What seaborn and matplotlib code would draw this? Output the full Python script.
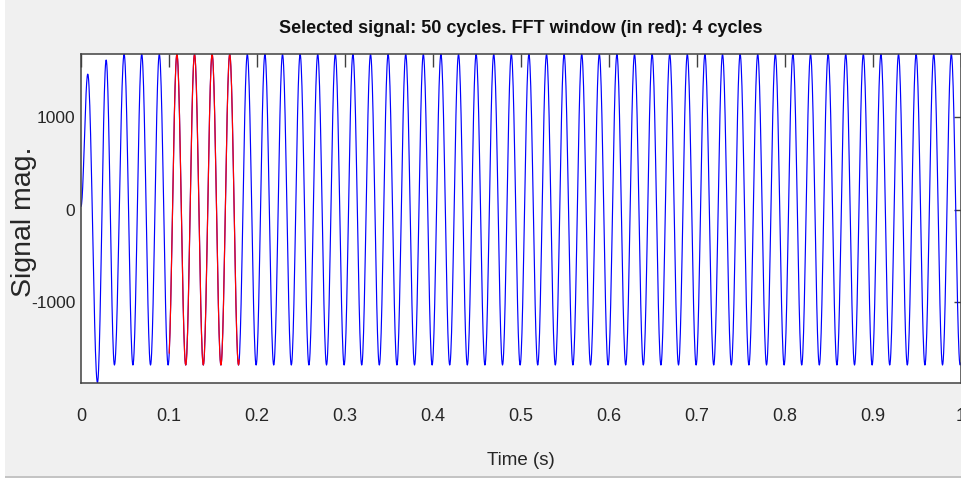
import numpy as np
import pandas as pd
import matplotlib
matplotlib.use("Agg")
import matplotlib.pyplot as plt
from matplotlib.patches import Rectangle
import seaborn as sns

# ---- data ----
frequency_hz = 50
n_cycles = 50
steady_peak = 1681
steady_trough = -1678
# start-up extrema (time in s, value)
transient_times = [0.0, 0.0077, 0.0187, 0.0286, 0.0380, 0.0490]
transient_values = [36, 1467, -1869, 1619, -1678, 1681]
fft_window = [0.10, 0.18]
x_ticks = [0, 0.1, 0.2, 0.3, 0.4, 0.5, 0.6, 0.7, 0.8, 0.9, 1]
x_tick_labels = ["0", "0.1", "0.2", "0.3", "0.4", "0.5", "0.6", "0.7", "0.8", "0.9", "1"]
y_ticks = [-1000, 0, 1000]
y_tick_labels = ["-1000", "0", "1000"]
title = "Selected signal: 50 cycles. FFT window (in red): 4 cycles"
x_label = "Time (s)"
y_label = "Signal mag."

# ---- build the sampled signal (sinusoid between extrema) ----
half_period = 1.0 / frequency_hz / 2
ext_t = list(transient_times)
ext_v = list(transient_values)
k = 0
t_next = transient_times[-1] + half_period
while t_next <= n_cycles / frequency_hz + 1e-9:
    ext_t.append(t_next)
    ext_v.append(steady_trough if k % 2 == 0 else steady_peak)
    k += 1
    t_next = transient_times[-1] + (k + 1) * half_period
ext_t.append(1.0)
ext_v.append(steady_trough + 25)

ts, vs = [], []
for i in range(len(ext_t) - 1):
    s = np.linspace(0, 1, 24, endpoint=False)
    ts.append(ext_t[i] + (ext_t[i + 1] - ext_t[i]) * s)
    vs.append(ext_v[i] + (ext_v[i + 1] - ext_v[i]) * (1 - np.cos(np.pi * s)) / 2)
ts.append([ext_t[-1]]); vs.append([ext_v[-1]])
df = pd.DataFrame({"Time": np.concatenate(ts), "Signal": np.concatenate(vs)})
win = df[(df["Time"] >= fft_window[0]) & (df["Time"] <= fft_window[1])]

# ---- plot ----
sns.set_theme(style="white")
plt.rcParams["font.family"] = ["Liberation Sans", "DejaVu Sans"]

fig = plt.figure(figsize=(9.62, 4.8), dpi=100, facecolor="white")
fig.patches.append(Rectangle((5 / 962, 3.5 / 480), 1, 1, transform=fig.transFigure,
                             facecolor="#f0f0f0", edgecolor="none", zorder=-10))
fig.patches.append(Rectangle((5 / 962, 2.5 / 480), 1, 1.5 / 480, transform=fig.transFigure,
                             facecolor="#c4c4c4", edgecolor="none", zorder=-9))
ax = fig.add_axes([81 / 962, (480 - 382.7) / 480, 880 / 962, 328.4 / 480])
ax.set_facecolor("white")

sns.lineplot(data=df, x="Time", y="Signal", color="blue", lw=0.85, sort=False,
             estimator=None, ax=ax)
sns.lineplot(data=win, x="Time", y="Signal", color="red", lw=0.85, sort=False,
             estimator=None, ax=ax)

ax.set_xlim(0, 1)
ax.set_ylim(min(transient_values), steady_peak)
ax.set_xticks(x_ticks)
ax.set_xticklabels(x_tick_labels)
ax.set_yticks(y_ticks)
ax.set_yticklabels(y_tick_labels)

for sp in ax.spines.values():
    sp.set_visible(True)
    sp.set_color("#404040")
    sp.set_linewidth(1.1)

ax.tick_params(axis="both", direction="in", top=True, right=True, colors="#404040",
               labelcolor="#262626", width=1.0)
ax.tick_params(axis="x", length=9.5, pad=18, labelsize=13)
ax.tick_params(axis="y", length=5, pad=4, labelsize=12.5)

ax.set_title(title, fontsize=13, fontweight="bold", color="#111111", pad=15)
ax.set_xlabel(x_label, fontsize=13.5, color="#262626", labelpad=20)
ax.set_ylabel(y_label, fontsize=20.5, color="#262626")
ax.yaxis.set_label_coords(-0.0495, 0.49)

fig.savefig("out.png", dpi=100, facecolor=fig.get_facecolor())
